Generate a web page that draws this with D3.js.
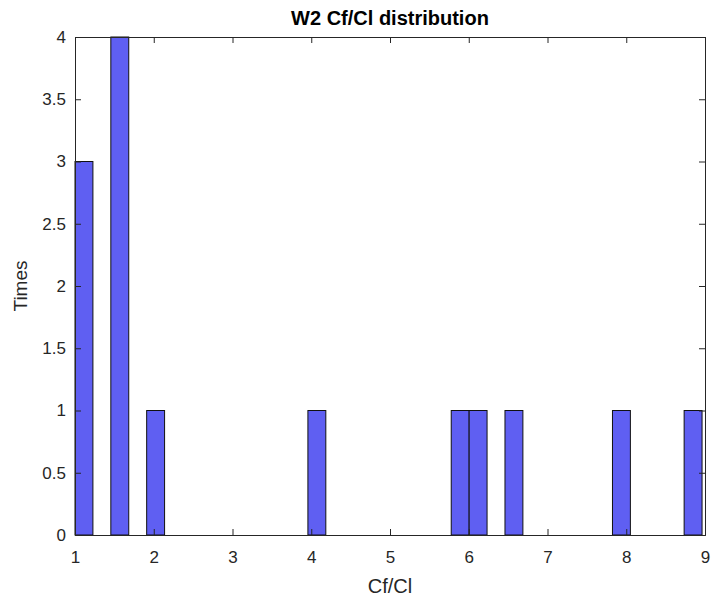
<!DOCTYPE html>
<html>
<head>
<meta charset="utf-8">
<script src="https://cdn.jsdelivr.net/npm/d3@7"></script>
<style>
  body { margin: 0; background: #fff; }
  svg { font-family: "Liberation Sans", Arial, sans-serif; }
</style>
</head>
<body>
<svg id="chart" width="711" height="603"></svg>
<script>
// histogram bins (left edge of each non-empty bin)
const binWidth = 0.2275;
const binStarts = [1.0, 1.455, 1.91, 3.9575, 5.7775, 6.005, 6.46, 7.825, 8.735];
const binCounts = [3, 4, 1, 1, 1, 1, 1, 1, 1];
const xTicks = [1, 2, 3, 4, 5, 6, 7, 8, 9];
const yTicks = [0, 0.5, 1, 1.5, 2, 2.5, 3, 3.5, 4];

const plotL = 75, plotR = 705, plotT = 37, plotB = 535;
const svg = d3.select('#chart');

const x = d3.scaleLinear().domain([1, 9]).range([plotL, plotR]);
const y = d3.scaleLinear().domain([0, 4]).range([plotB, plotT]);

// bars
svg.selectAll('rect.bar')
  .data(binStarts.map((s, i) => ({ start: s, count: binCounts[i] })))
  .join('rect')
  .attr('class', 'bar')
  .attr('x', d => x(d.start))
  .attr('y', d => y(d.count))
  .attr('width', d => x(d.start + binWidth) - x(d.start))
  .attr('height', d => y(0) - y(d.count))
  .attr('fill', '#5f5ff2')
  .attr('stroke', '#111')
  .attr('stroke-width', 1);

// axes (ticks pointing inward, box all round)
const tickCol = '#262626';
const axB = svg.append('g').attr('transform', `translate(0,${plotB})`)
  .call(d3.axisBottom(x).tickValues(xTicks).tickSize(-6).tickPadding(16).tickFormat(d3.format('d')));
const axT = svg.append('g').attr('transform', `translate(0,${plotT})`)
  .call(d3.axisTop(x).tickValues(xTicks).tickSize(-6).tickFormat(''));
const axL = svg.append('g').attr('transform', `translate(${plotL},0)`)
  .call(d3.axisLeft(y).tickValues(yTicks).tickSize(-6).tickPadding(9).tickFormat(d => d));
const axR = svg.append('g').attr('transform', `translate(${plotR},0)`)
  .call(d3.axisRight(y).tickValues(yTicks).tickSize(-6).tickFormat(''));

[axB, axT, axL, axR].forEach(g => {
  g.selectAll('path.domain').attr('stroke', tickCol).attr('stroke-width', 1);
  g.selectAll('line').attr('stroke', tickCol);
  g.selectAll('text').attr('fill', tickCol).style('font-size', '17px');
});

// titles
svg.append('text')
  .attr('x', (plotL + plotR) / 2).attr('y', 25)
  .attr('text-anchor', 'middle')
  .style('font-size', '20px').style('font-weight', 'bold')
  .attr('fill', '#000')
  .text('W2 Cf/Cl distribution');

svg.append('text')
  .attr('x', (plotL + plotR) / 2).attr('y', 593)
  .attr('text-anchor', 'middle')
  .style('font-size', '20px')
  .attr('fill', tickCol)
  .text('Cf/Cl');

svg.append('text')
  .attr('transform', `translate(27,${(plotT + plotB) / 2}) rotate(-90)`)
  .attr('text-anchor', 'middle')
  .style('font-size', '19px')
  .attr('fill', tickCol)
  .text('Times');
</script>
</body>
</html>
